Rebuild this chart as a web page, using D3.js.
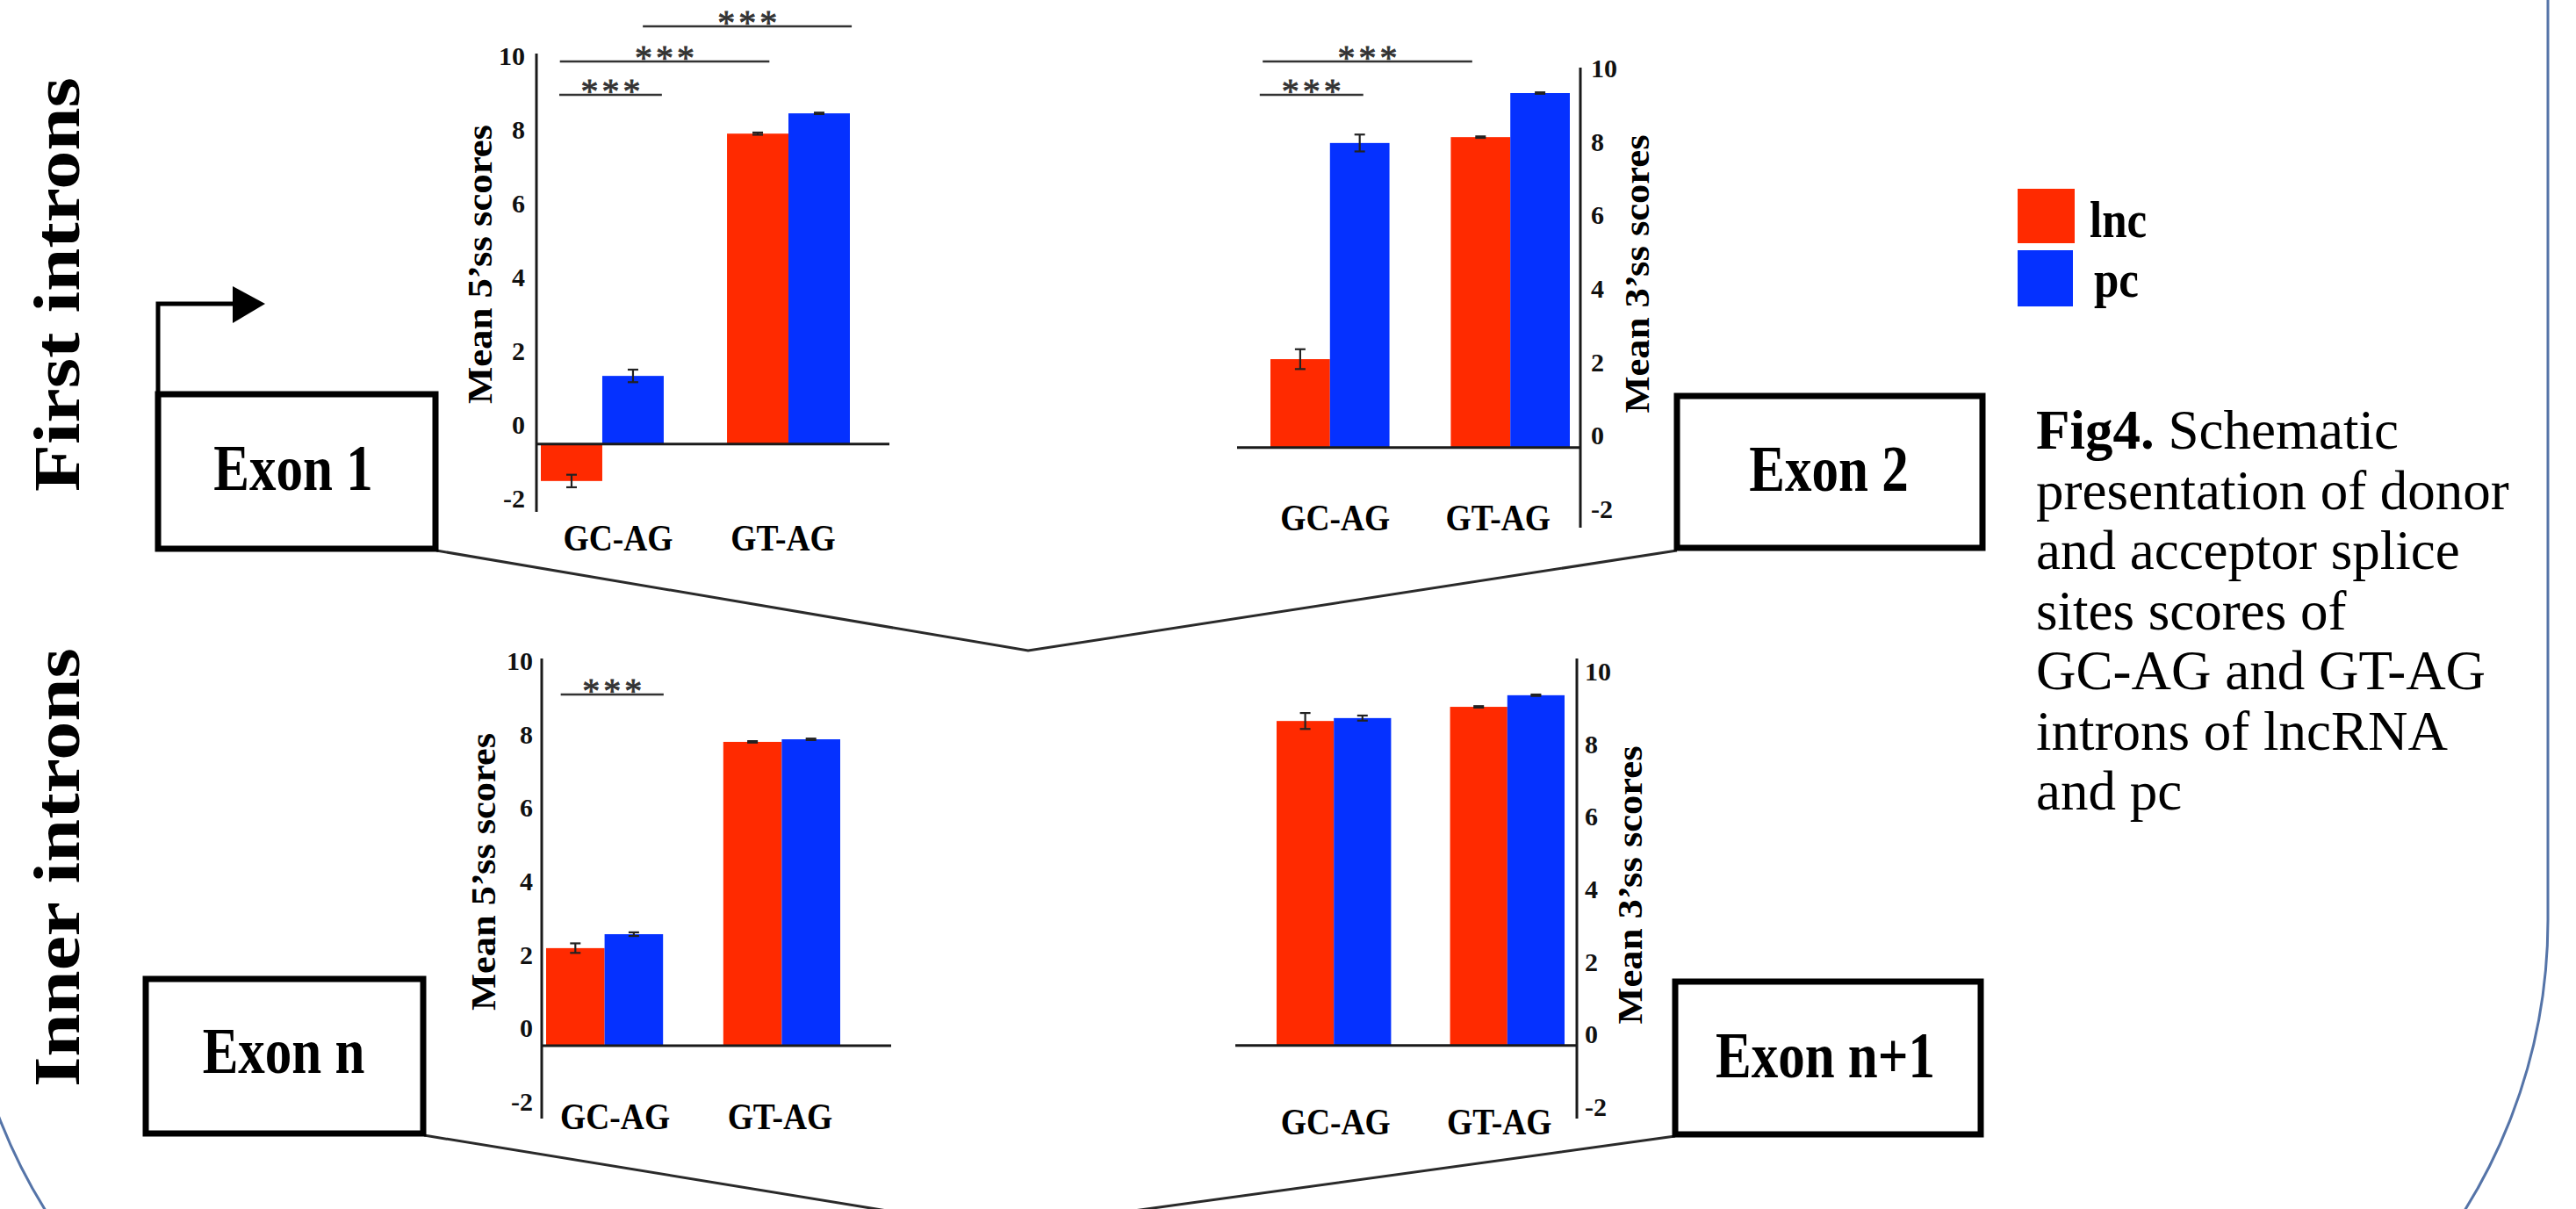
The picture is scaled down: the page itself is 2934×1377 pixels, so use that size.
<!DOCTYPE html>
<html><head><meta charset="utf-8">
<script src="https://cdn.jsdelivr.net/npm/d3@7"></script>
<style>html,body{margin:0;padding:0;background:#fff;overflow:hidden;} svg{display:block;}</style>
</head><body>
<svg id="fig" width="2934" height="1377"></svg>
<script>
// ---------------- DATA ----------------
const categories = ["GC-AG", "GT-AG"];
const seriesNames = ["lnc", "pc"];
const yTicks = [-2, 0, 2, 4, 6, 8, 10];

// First introns, donor (5'ss)
const firstDonorLnc = [-1.52, 7.90];
const firstDonorPc = [1.33, 8.45];
const firstDonorLncErr = [0.17, 0.03];
const firstDonorPcErr = [0.17, 0.02];
// First introns, acceptor (3'ss)
const firstAcceptorLnc = [2.08, 8.13];
const firstAcceptorPc = [7.97, 9.33];
const firstAcceptorLncErr = [0.27, 0.02];
const firstAcceptorPcErr = [0.23, 0.02];
// Inner introns, donor (5'ss)
const innerDonorLnc = [2.18, 7.80];
const innerDonorPc = [2.56, 7.87];
const innerDonorLncErr = [0.13, 0.02];
const innerDonorPcErr = [0.05, 0.02];
// Inner introns, acceptor (3'ss)
const innerAcceptorLnc = [8.64, 9.03];
const innerAcceptorPc = [8.72, 9.35];
const innerAcceptorLncErr = [0.22, 0.02];
const innerAcceptorPcErr = [0.07, 0.02];

// significance comparisons: [category, series] pairs
const firstDonorSig = [
  {a: ["GC-AG", "lnc"], b: ["GC-AG", "pc"], label: "***"},
  {a: ["GC-AG", "lnc"], b: ["GT-AG", "lnc"], label: "***"},
  {a: ["GC-AG", "pc"], b: ["GT-AG", "pc"], label: "***"}
];
const firstAcceptorSig = [
  {a: ["GC-AG", "lnc"], b: ["GC-AG", "pc"], label: "***"},
  {a: ["GC-AG", "lnc"], b: ["GT-AG", "lnc"], label: "***"}
];
const innerDonorSig = [
  {a: ["GC-AG", "lnc"], b: ["GC-AG", "pc"], label: "***"}
];
const innerAcceptorSig = [];

const rowLabels = ["First introns", "Inner introns"];
const exonLabels = ["Exon 1", "Exon 2", "Exon n", "Exon n+1"];
const captionBold = "Fig4.";
const captionLines = [" Schematic", "presentation of donor", "and acceptor splice", "sites scores of", "GC-AG and GT-AG", "introns of lncRNA", "and pc"];

// ---------------- STYLE / LAYOUT ----------------
const FONT = "'Liberation Serif','Times New Roman',serif";
const color = d3.scaleOrdinal().domain(seriesNames).range(["#ff2a00", "#0531ff"]);
const INK = "#1a1a1a";

const panels = [
  {title: "Mean 5\u2019ss scores", values: {lnc: firstDonorLnc, pc: firstDonorPc}, errors: {lnc: firstDonorLncErr, pc: firstDonorPcErr}, sig: firstDonorSig,
   L: {barRange: [616, 968], yRange: [568, 64], axisX: 611, side: "left", axisY: [61, 583], base: -0.52, lineX: [611, 1013], tickPad: 13,
       titleX: 560, titleY: 301, titleLen: 318, catY: 627, catShift: [18, -6],
       br: [{f0: 0.30, f1: 0.97, level: 8.95}, {f0: 0.31, f1: 0.69, level: 9.86}, {f0: 0.66, f1: 1.03, level: 10.81}]}},
  {title: "Mean 3\u2019ss scores", values: {lnc: firstAcceptorLnc, pc: firstAcceptorPc}, errors: {lnc: firstAcceptorLncErr, pc: firstAcceptorPcErr}, sig: firstAcceptorSig,
   L: {barRange: [1447, 1788], yRange: [579.6, 78], axisX: 1800, side: "right", axisY: [77, 601], base: -0.33, lineX: [1409, 1800], tickPad: 12,
       titleX: 1878, titleY: 312, titleLen: 317, catY: 604, catShift: [6, -14],
       br: [{f0: -0.18, f1: 0.56, level: 9.28}, {f0: -0.13, f1: 0.36, level: 10.19}]}},
  {title: "Mean 5\u2019ss scores", values: {lnc: innerDonorLnc, pc: innerDonorPc}, errors: {lnc: innerDonorLncErr, pc: innerDonorPcErr}, sig: innerDonorSig,
   L: {barRange: [622, 957], yRange: [1254.6, 753], axisX: 617, side: "left", axisY: [750, 1274], base: -0.48, lineX: [617, 1015], tickPad: 10,
       titleX: 564, titleY: 993, titleLen: 316, catY: 1286, catShift: [12, -2],
       br: [{f0: 0.25, f1: 1.01, level: 9.09}]}},
  {title: "Mean 3\u2019ss scores", values: {lnc: innerAcceptorLnc, pc: innerAcceptorPc}, errors: {lnc: innerAcceptorLncErr, pc: innerAcceptorPcErr}, sig: innerAcceptorSig,
   L: {barRange: [1454, 1782], yRange: [1260.6, 765], axisX: 1796, side: "right", axisY: [750, 1274], base: -0.31, lineX: [1407, 1796], tickPad: 9,
       titleX: 1870, titleY: 1008, titleLen: 317, catY: 1292, catShift: [2, -9],
       br: []}}
];

const svg = d3.select("#fig");

// rounded frame
svg.append("rect").attr("x", -43).attr("y", -700).attr("width", 2945).attr("height", 2371)
  .attr("rx", 623).attr("ry", 623).attr("fill", "none").attr("stroke", "#5574a8").attr("stroke-width", 3);

// connector "intron" lines
const line = d3.line();
const connectors = [
  [[497, 627], [1171, 741], [1910, 627]],
  [[483, 1293], [1139, 1400], [1908, 1294]]
];
svg.selectAll("path.conn").data(connectors).join("path").attr("class", "conn")
  .attr("d", line).attr("fill", "none").attr("stroke", "#2a2a2a").attr("stroke-width", 3);

// exon boxes
const boxes = [
  {x: 180, y: 449, w: 316, h: 176, tx: 334, ty: 558},
  {x: 1910, y: 451, w: 348, h: 173, tx: 2083, ty: 559},
  {x: 166, y: 1115, w: 316, h: 176, tx: 323, ty: 1222},
  {x: 1908, y: 1118, w: 348, h: 174, tx: 2079, ty: 1227}
];
boxes.forEach((b, i) => {
  svg.append("rect").attr("x", b.x).attr("y", b.y).attr("width", b.w).attr("height", b.h)
    .attr("fill", "#fff").attr("stroke", "#000").attr("stroke-width", 7);
  svg.append("text").attr("transform", `translate(${b.tx},${b.ty}) scale(1,1.2)`)
    .attr("text-anchor", "middle").attr("font-family", FONT).attr("font-weight", "bold")
    .attr("font-size", 61).attr("fill", "#000").text(exonLabels[i]);
});

// transcription start arrow
svg.append("path").attr("d", line([[180, 449], [180, 346], [268, 346]]))
  .attr("fill", "none").attr("stroke", "#000").attr("stroke-width", 5);
svg.append("path").attr("d", line([[265, 326], [302, 346], [265, 368]]) + "Z").attr("fill", "#000");

// row labels
[{x: 90, y: 324, len: 472}, {x: 90, y: 988, len: 500}].forEach((r, i) => {
  svg.append("text").attr("transform", `translate(${r.x},${r.y}) rotate(-90)`)
    .attr("text-anchor", "middle").attr("font-family", FONT).attr("font-weight", "bold")
    .attr("font-size", 75).attr("textLength", r.len).attr("lengthAdjust", "spacingAndGlyphs")
    .attr("fill", "#000").text(rowLabels[i]);
});

// panels
panels.forEach(p => {
  const L = p.L;
  const g = svg.append("g");
  const y = d3.scaleLinear().domain([yTicks[0], yTicks[yTicks.length - 1]]).range(L.yRange);
  const x0 = d3.scaleBand().domain(categories).range(L.barRange).paddingInner(0.34).paddingOuter(0);
  const x1 = d3.scaleBand().domain(seriesNames).range([0, x0.bandwidth()]).padding(0);
  const rows = [];
  categories.forEach((c, i) => seriesNames.forEach(s => rows.push({cat: c, ser: s, v: p.values[s][i], e: p.errors[s][i]})));
  const yb = y(L.base);

  g.selectAll("rect.bar").data(rows).join("rect").attr("class", "bar")
    .attr("x", d => x0(d.cat) + x1(d.ser)).attr("width", x1.bandwidth())
    .attr("y", d => Math.min(y(d.v), yb)).attr("height", d => Math.abs(y(d.v) - yb))
    .attr("fill", d => color(d.ser));

  // category axis line
  g.append("line").attr("x1", L.lineX[0]).attr("x2", L.lineX[1]).attr("y1", yb).attr("y2", yb)
    .attr("stroke", INK).attr("stroke-width", 3);
  // value axis
  const axis = (L.side === "left" ? d3.axisLeft(y) : d3.axisRight(y))
    .tickValues(yTicks).tickSize(0).tickPadding(L.tickPad).tickFormat(d => String(d));
  const ag = g.append("g").attr("transform", `translate(${L.axisX},0)`).call(axis);
  ag.select(".domain").remove();
  ag.selectAll("text").attr("font-family", FONT).attr("font-size", 30).attr("font-weight", "bold").attr("fill", "#111");
  g.append("line").attr("x1", L.axisX).attr("x2", L.axisX).attr("y1", L.axisY[0]).attr("y2", L.axisY[1])
    .attr("stroke", INK).attr("stroke-width", 3);

  // error bars
  const eg = g.selectAll("g.err").data(rows).join("g").attr("class", "err")
    .attr("stroke", "#222").attr("stroke-width", 2.2);
  const cx = d => x0(d.cat) + x1(d.ser) + x1.bandwidth() / 2;
  eg.append("line").attr("x1", cx).attr("x2", cx).attr("y1", d => y(d.v - d.e)).attr("y2", d => y(d.v + d.e));
  eg.append("line").attr("x1", d => cx(d) - 6).attr("x2", d => cx(d) + 6).attr("y1", d => y(d.v - d.e)).attr("y2", d => y(d.v - d.e));
  eg.append("line").attr("x1", d => cx(d) - 6).attr("x2", d => cx(d) + 6).attr("y1", d => y(d.v + d.e)).attr("y2", d => y(d.v + d.e));

  // category labels
  g.selectAll("text.cat").data(categories).join("text").attr("class", "cat")
    .attr("transform", (d, i) => `translate(${x0(d) + x0.bandwidth() / 2 + L.catShift[i]},${L.catY}) scale(1,1.12)`)
    .attr("text-anchor", "middle").attr("font-family", FONT).attr("font-weight", "bold")
    .attr("font-size", 37.5).attr("fill", "#000").text(d => d);

  // axis title
  g.append("text").attr("transform", `translate(${L.titleX},${L.titleY}) rotate(-90)`)
    .attr("text-anchor", "middle").attr("font-family", FONT).attr("font-weight", "bold")
    .attr("font-size", 41).attr("textLength", L.titleLen).attr("lengthAdjust", "spacingAndGlyphs")
    .attr("fill", "#000").text(p.title);

  // significance brackets
  const bw = x1.bandwidth();
  const px = (ref, f) => x0(ref[0]) + x1(ref[1]) + f * bw;
  const sg = g.selectAll("g.sig").data(p.sig.map((s, i) => ({s, b: L.br[i]}))).join("g").attr("class", "sig");
  sg.append("line").attr("x1", d => px(d.s.a, d.b.f0)).attr("x2", d => px(d.s.b, d.b.f1))
    .attr("y1", d => y(d.b.level)).attr("y2", d => y(d.b.level)).attr("stroke", "#333").attr("stroke-width", 2.5);
  sg.append("text").attr("x", d => (px(d.s.a, d.b.f0) + px(d.s.b, d.b.f1)) / 2 + 2).attr("y", d => y(d.b.level) + 9)
    .attr("text-anchor", "middle").attr("font-family", FONT).attr("font-size", 40).attr("letter-spacing", 4)
    .attr("fill", "#333").attr("stroke", "#333").attr("stroke-width", 0.8)
    .text(d => d.s.label);
});

// legend
const legend = svg.append("g");
const legItems = [{y: 215, h: 62, w: 65, ty: 270, tx: 2380}, {y: 285, h: 64, w: 63, ty: 338, tx: 2385}];
seriesNames.forEach((s, i) => {
  const it = legItems[i];
  legend.append("rect").attr("x", 2298).attr("y", it.y).attr("width", it.w).attr("height", it.h).attr("fill", color(s));
  legend.append("text").attr("transform", `translate(${it.tx},${it.ty}) scale(1,1.15)`)
    .attr("font-family", FONT).attr("font-weight", "bold").attr("font-size", 51).attr("fill", "#000").text(s);
});

// caption
const cap = svg.append("text").attr("font-family", FONT).attr("font-size", 63).attr("fill", "#000");
captionLines.forEach((t, i) => {
  if (i === 0) {
    cap.append("tspan").attr("x", 2319).attr("y", 511).attr("font-weight", "bold").text(captionBold);
    cap.append("tspan").text(t);
  } else {
    cap.append("tspan").attr("x", 2319).attr("y", 511 + i * 68.5).text(t);
  }
});
</script>
</body></html>
